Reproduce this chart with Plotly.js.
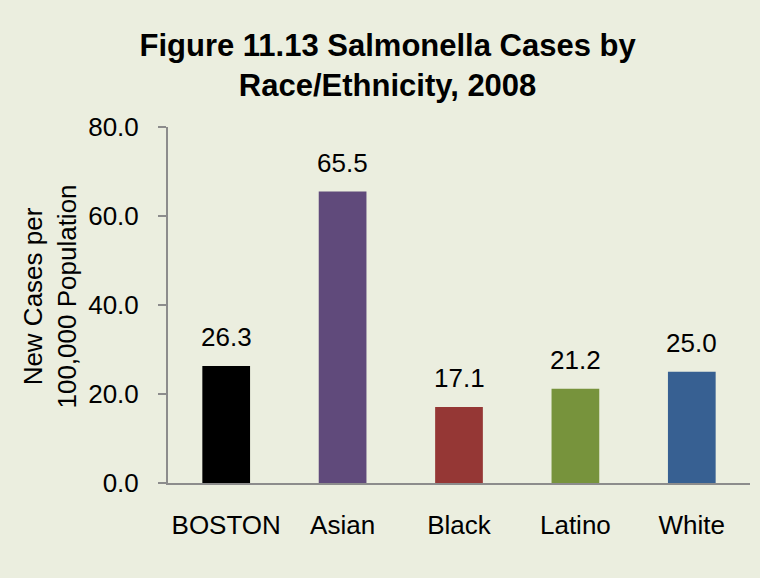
<!DOCTYPE html>
<html>
<head>
<meta charset="utf-8">
<script src="https://cdn.plot.ly/plotly-3.0.1.min.js"></script>
<style>
html,body{margin:0;padding:0;background:#EBEEDF;}
#chart{width:760px;height:578px;}
</style>
</head>
<body>
<div id="chart"></div>
<script>
const categories = ["BOSTON", "Asian", "Black", "Latino", "White"];
const values = [26.3, 65.5, 17.1, 21.2, 25.0];
const barColors = ["#000000", "#604A7B", "#953735", "#77933C", "#376092"];
const yTickVals = [0, 20, 40, 60, 80];
const yTickText = ["0.0", "20.0", "40.0", "60.0", "80.0"];
const yTitle = "New Cases per<br>100,000 Population";

const font = "Liberation Sans, Arial, sans-serif";

const trace = {
  type: "bar",
  x: categories,
  y: values,
  width: 0.41,
  marker: {color: barColors, line: {width: 0}},
  hoverinfo: "x+y"
};

const annotations = categories.map((c, i) => ({
  x: c, y: values[i], xref: "x", yref: "y",
  text: values[i].toFixed(1),
  showarrow: false, yanchor: "bottom", yshift: 12,
  font: {family: font, size: 26, color: "#000000"}
}));

annotations.push({
  xref: "paper", yref: "paper", x: -0.202, y: 0.525,
  xanchor: "center", yanchor: "middle",
  text: yTitle, textangle: -90, showarrow: false,
  font: {family: font, size: 26, color: "#000000"}
});

const layout = {
  width: 760, height: 578,
  paper_bgcolor: "#EBEEDF",
  plot_bgcolor: "#EBEEDF",
  margin: {l: 168, r: 10, t: 127, b: 95},
  title: {
    text: "<b>Figure 11.13 Salmonella Cases by<br>Race/Ethnicity, 2008</b>",
    font: {family: font, size: 31, color: "#000000"},
    x: 0.51, xanchor: "center", y: 0.903, yanchor: "top"
  },
  showlegend: false,
  xaxis: {
    type: "category",
    showline: true, linecolor: "#8C8C8C", linewidth: 2,
    ticks: "", showgrid: false, zeroline: false,
    tickfont: {family: font, size: 26, color: "#000000"},
    ticklabelstandoff: 18,
    fixedrange: true
  },
  yaxis: {
    range: [0, 80],
    tickvals: yTickVals, ticktext: yTickText,
    showline: true, linecolor: "#8C8C8C", linewidth: 2,
    ticks: "outside", ticklen: 8, tickwidth: 2, tickcolor: "#8C8C8C",
    showgrid: false, zeroline: false,
    tickfont: {family: font, size: 26, color: "#000000"},
    ticklabelstandoff: 14,
    automargin: false,
    fixedrange: true
  },
  annotations: annotations
};

Plotly.newPlot("chart", [trace], layout, {displayModeBar: false, staticPlot: true});
</script>
</body>
</html>
